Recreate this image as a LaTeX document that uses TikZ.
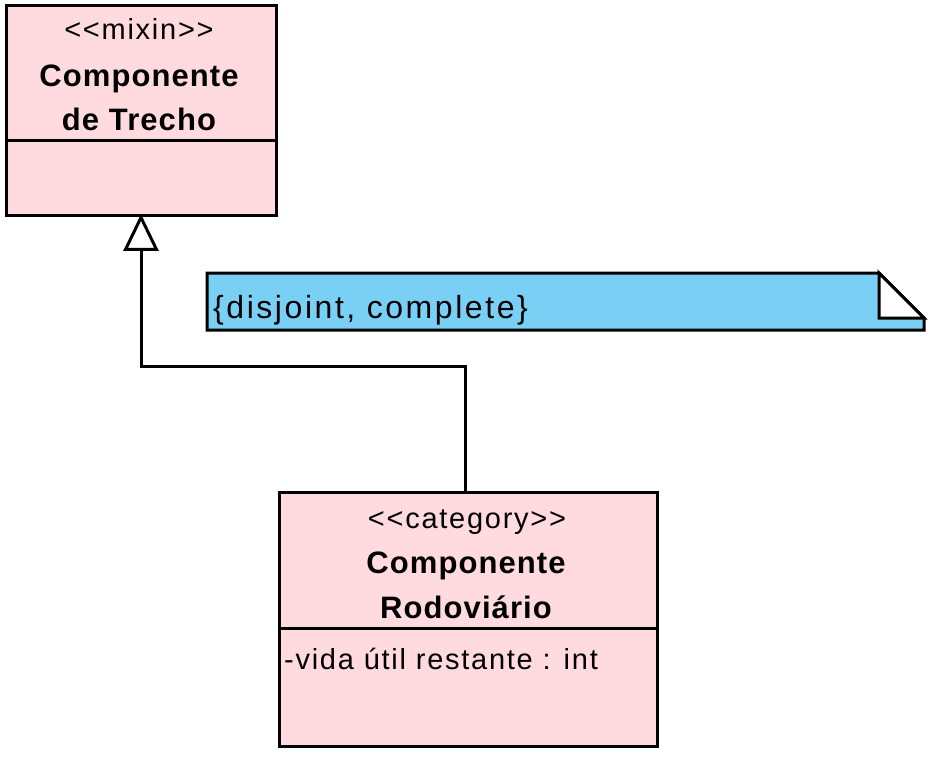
\documentclass[tikz,border=0pt]{standalone}
\usepackage{fontspec}
\setmainfont{Liberation Sans}
\newfontfamily\regf[LetterSpace=6]{Liberation Sans}
\newfontfamily\notef[LetterSpace=8]{Liberation Sans}
\newfontfamily\boldf[LetterSpace=3.5]{Liberation Sans Bold}
\usetikzlibrary{arrows.meta}
\definecolor{classpink}{RGB}{255,218,223}
\definecolor{noteblue}{RGB}{122,207,245}
\tikzset{
  umlbox/.style={draw=black, fill=classpink, line width=3pt, inner sep=0pt, outer sep=0pt, anchor=north west},
  stereo/.style={anchor=base, inner sep=0pt, font=\regf\fontsize{29}{33}\selectfont},
  cname/.style={anchor=base, inner sep=0pt, font=\boldf\fontsize{31}{35}\selectfont},
  attr/.style={anchor=base west, inner sep=0pt, font=\regf\fontsize{29}{33}\selectfont},
  notetxt/.style={anchor=base west, inner sep=0pt, font=\notef\fontsize{32}{36}\selectfont},
  conn/.style={draw=black, line width=3pt},
}
\begin{document}
\begin{tikzpicture}[x=1pt, y=-1pt, line join=miter]
\useasboundingbox (0,0) rectangle (939,759);
% top class
\node[umlbox, minimum width=270pt, minimum height=210pt] (top) at (6,6) {};
\draw[line width=3pt] (6,141) -- (276,141);
\node[stereo] (topst) at (139,40) {<<mixin>>};
\node[cname] (topn1) at (139,87) {Componente};
\node[cname] (topn2) at (139,131) {de Trecho};
% bottom class
\node[umlbox, minimum width=378pt, minimum height=254pt] (bot) at (279,492) {};
\draw[line width=3pt] (279,628) -- (657,628);
\node[stereo] (botst) at (467,528) {<<category>>};
\node[cname] (botn1) at (466,573) {Componente};
\node[cname] (botn2) at (466,618) {Rodoviário};
\node[attr] (botattr) at (284,669) {-vida útil restante : int};
% note
\draw[line width=3pt, fill=noteblue] (207,273) -- (879,273) -- (924,318) -- (924,330) -- (207,330) -- cycle;
\draw[line width=3pt, fill=white] (879,273) -- (879,318) -- (924,318) -- cycle;
\node[notetxt] (note) at (213,318) {\{disjoint, complete\}};
% generalization
\coordinate (bend) at (465,366);
\draw[conn, -{Triangle[length=37pt, width=35pt, fill=white, line width=3pt]}] ([xshift=-3pt]bot.north) -- (bend) -| ([yshift=2pt]top.south);
\end{tikzpicture}
\end{document}
